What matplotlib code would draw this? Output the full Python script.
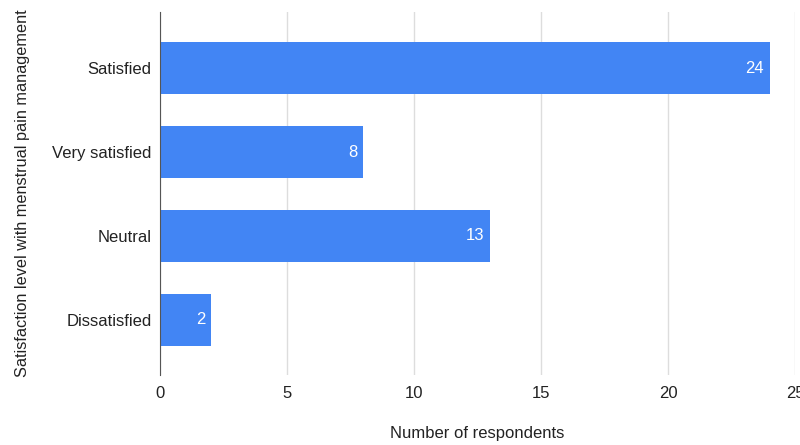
import matplotlib
matplotlib.use("Agg")
import matplotlib.pyplot as plt

categories = ["Satisfied", "Very satisfied", "Neutral", "Dissatisfied"]
values = [24, 8, 13, 2]
xticks = [0, 5, 10, 15, 20, 25]

plt.rcParams['font.family'] = ['Liberation Sans', 'DejaVu Sans']

fig = plt.figure(figsize=(8, 4.45), dpi=100)
ax = fig.add_axes([0.2, 1 - 375/445, 0.99375 - 0.2, (375 - 12)/445])

pos = list(range(len(categories)))
bars = ax.barh(pos, values, height=0.63, color="#4285F4", zorder=3)
for b, v in zip(bars, values):
    ax.annotate(str(v), (b.get_width(), b.get_y() + b.get_height()/2),
                xytext=(-4, 0), textcoords="offset points",
                ha="right", va="center", color="white", fontsize=12, zorder=4)

ax.set_ylim(3.655, -0.667)
ax.set_xlim(0, 25)
ax.set_xticks(xticks)
ax.set_xticklabels([str(t) for t in xticks])
ax.set_yticks(pos)
ax.set_yticklabels(categories)
ax.tick_params(axis="both", length=0, labelsize=12, labelcolor="#222222")
ax.tick_params(axis="y", pad=6)
ax.tick_params(axis="x", pad=8)
ax.grid(axis="x", color="#dddddd", linewidth=1, zorder=0)
for s in ["top", "right", "bottom"]:
    ax.spines[s].set_visible(False)
ax.spines["left"].set_color("#555555")
ax.spines["left"].set_zorder(5)

ax.set_xlabel("Number of respondents", fontsize=12, color="#222222", labelpad=18)
ax.set_ylabel("Satisfaction level with menstrual pain management", fontsize=11.7,
              color="#222222")
ax.yaxis.set_label_coords(-0.205, 0.5)

fig.savefig("out.png", dpi=100)
